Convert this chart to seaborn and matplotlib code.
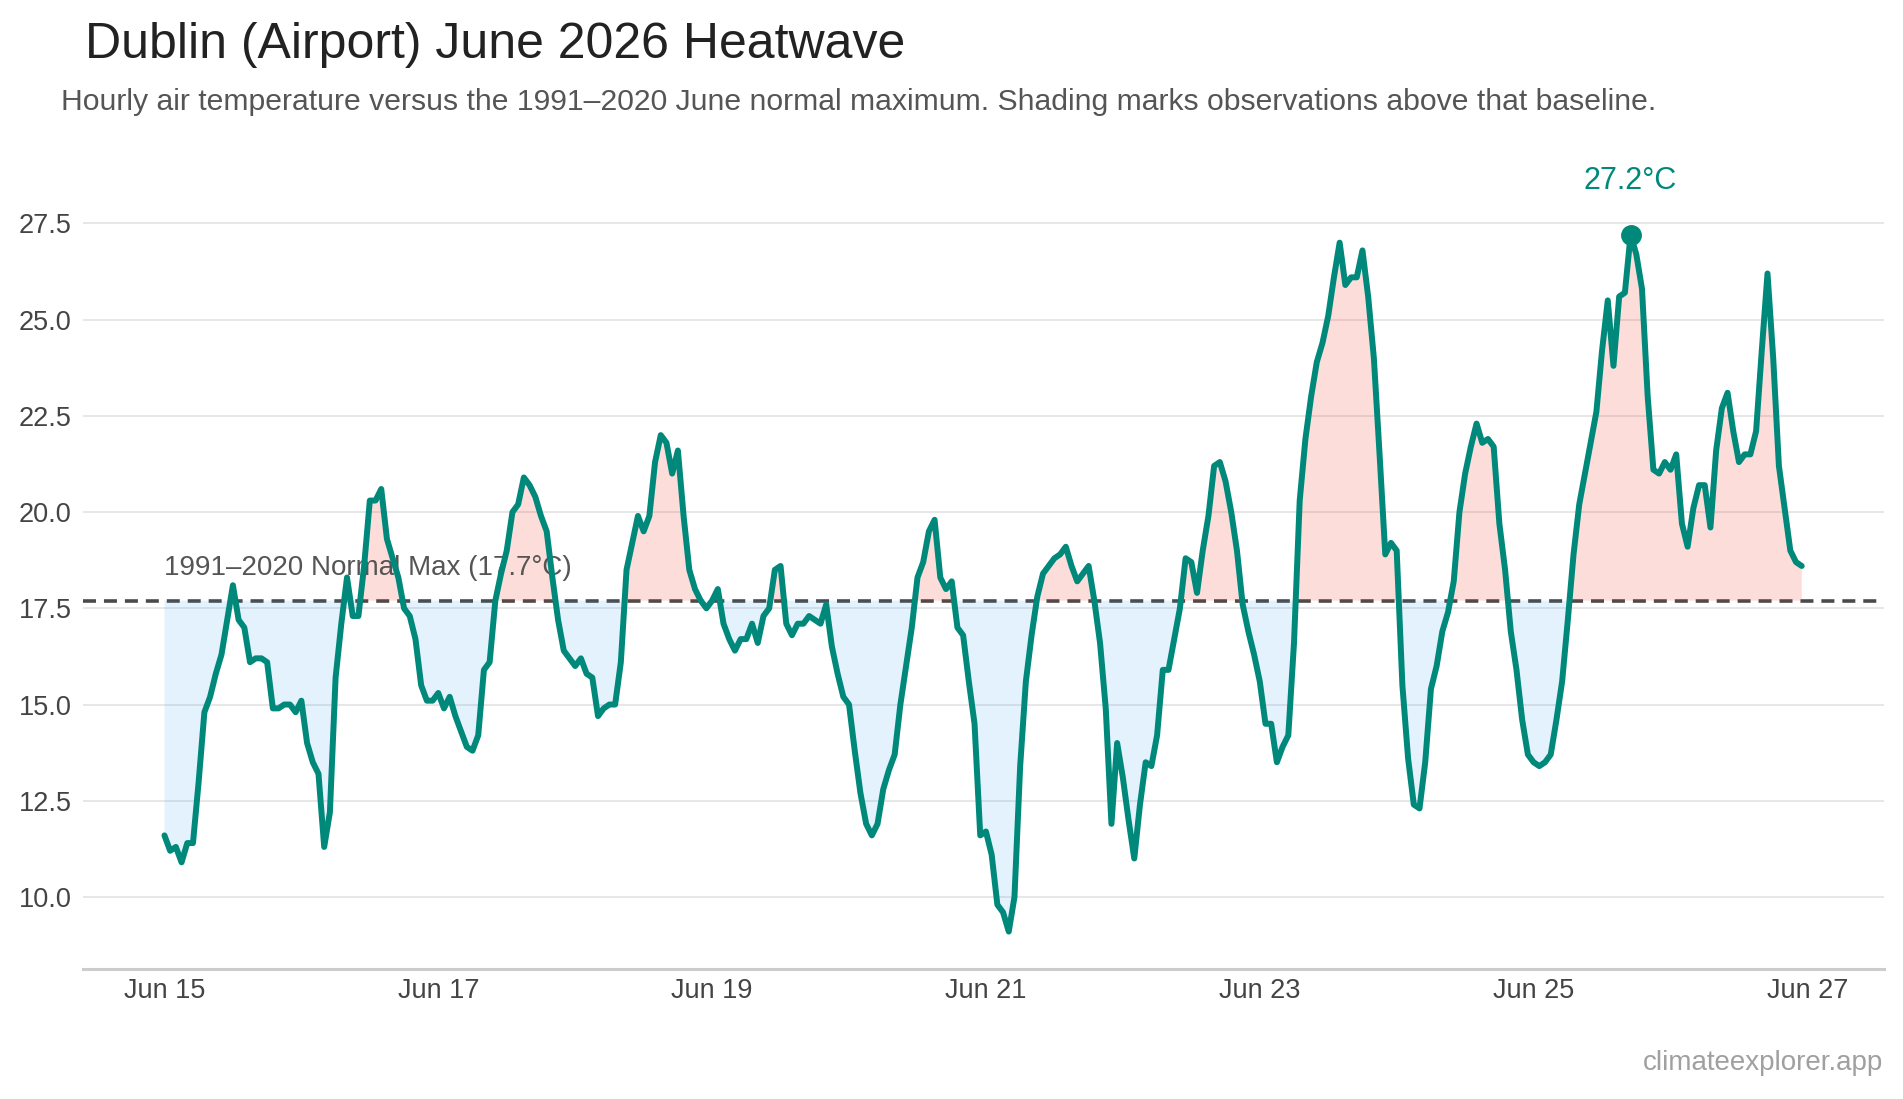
import numpy as np
import pandas as pd
import seaborn as sns
import matplotlib.pyplot as plt
import matplotlib.dates as mdates
from matplotlib.ticker import FormatStrFormatter

# hourly readings (°C), one list per day
jun15 = [11.6, 11.2, 11.3, 10.9, 11.4, 11.4, 13.0, 14.8, 15.2, 15.8, 16.3, 17.2,
         18.1, 17.2, 17.0, 16.1, 16.2, 16.2, 16.1, 14.9, 14.9, 15.0, 15.0, 14.8]
jun16 = [15.1, 14.0, 13.5, 13.2, 11.3, 12.2, 15.7, 17.1, 18.3, 17.3, 17.3, 18.6,
         20.3, 20.3, 20.6, 19.3, 18.8, 18.3, 17.5, 17.3, 16.7, 15.5, 15.1, 15.1]
jun17 = [15.3, 14.9, 15.2, 14.7, 14.3, 13.9, 13.8, 14.2, 15.9, 16.1, 17.7, 18.4,
         19.0, 20.0, 20.2, 20.9, 20.7, 20.4, 19.9, 19.5, 18.3, 17.2, 16.4, 16.2]
jun18 = [16.0, 16.2, 15.8, 15.7, 14.7, 14.9, 15.0, 15.0, 16.1, 18.5, 19.2, 19.9,
         19.5, 19.9, 21.3, 22.0, 21.8, 21.0, 21.6, 19.9, 18.5, 18.0, 17.7, 17.5]
jun19 = [17.7, 18.0, 17.1, 16.7, 16.4, 16.7, 16.7, 17.1, 16.6, 17.3, 17.5, 18.5,
         18.6, 17.1, 16.8, 17.1, 17.1, 17.3, 17.2, 17.1, 17.6, 16.5, 15.8, 15.2]
jun20 = [15.0, 13.8, 12.7, 11.9, 11.6, 11.9, 12.8, 13.3, 13.7, 15.0, 16.0, 17.0,
         18.3, 18.7, 19.5, 19.8, 18.3, 18.0, 18.2, 17.0, 16.8, 15.6, 14.5, 11.6]
jun21 = [11.7, 11.1, 9.8, 9.6, 9.1, 10.0, 13.4, 15.6, 16.8, 17.8, 18.4, 18.6,
         18.8, 18.9, 19.1, 18.6, 18.2, 18.4, 18.6, 17.7, 16.6, 14.9, 11.9, 14.0]
jun22 = [13.1, 12.0, 11.0, 12.4, 13.5, 13.4, 14.2, 15.9, 15.9, 16.7, 17.5, 18.8,
         18.7, 17.9, 19.0, 19.9, 21.2, 21.3, 20.8, 20.0, 19.0, 17.6, 16.9, 16.3]
jun23 = [15.6, 14.5, 14.5, 13.5, 13.9, 14.2, 16.6, 20.3, 21.9, 23.0, 23.9, 24.4,
         25.1, 26.1, 27.0, 25.9, 26.1, 26.1, 26.8, 25.6, 24.0, 21.5, 18.9, 19.2]
jun24 = [19.0, 15.5, 13.6, 12.4, 12.3, 13.5, 15.4, 16.0, 16.9, 17.4, 18.2, 20.0,
         21.0, 21.7, 22.3, 21.8, 21.9, 21.7, 19.7, 18.5, 16.9, 15.9, 14.6, 13.7]
jun25 = [13.5, 13.4, 13.5, 13.7, 14.6, 15.6, 17.2, 18.9, 20.2, 21.0, 21.8, 22.6,
         24.2, 25.5, 23.8, 25.6, 25.7, 27.2, 26.7, 25.8, 23.0, 21.1, 21.0, 21.3]
jun26 = [21.1, 21.5, 19.7, 19.1, 20.1, 20.7, 20.7, 19.6, 21.6, 22.7, 23.1, 22.1,
         21.3, 21.5, 21.5, 22.1, 24.2, 26.2, 24.0, 21.2, 20.1, 19.0, 18.7, 18.6]

baseline = 17.7  # 1991-2020 June normal max
y_ticks = [10.0, 12.5, 15.0, 17.5, 20.0, 22.5, 25.0, 27.5]
x_tick_days = [15, 17, 19, 21, 23, 25, 27]

temps = np.array(jun15 + jun16 + jun17 + jun18 + jun19 + jun20 +
                 jun21 + jun22 + jun23 + jun24 + jun25 + jun26)
times = pd.date_range("2026-06-15 00:00", periods=len(temps), freq="h")
df = pd.DataFrame({"time": times, "temp": temps})

teal = "#00897b"

sns.set_theme(style="white")
plt.rcParams["font.family"] = ["Liberation Sans", "DejaVu Sans"]

fig = plt.figure(figsize=(19.03, 10.99), dpi=100)
ax = fig.add_axes([0.0434, 0.1187, 0.9464, 0.699])

ax.yaxis.grid(True, color="#e3e3e3", lw=1.2, zorder=0)
ax.set_axisbelow(True)

ax.axhline(baseline, color="#4a4a4a", lw=2.6, ls=(0, (3.6, 2.2)), zorder=2)

# shading above / below the baseline
ax.fill_between(times, temps, baseline, where=temps >= baseline, interpolate=True,
                color="#f44336", alpha=0.18, lw=0, zorder=3)
ax.fill_between(times, temps, baseline, where=temps <= baseline, interpolate=True,
                color="#2196f3", alpha=0.12, lw=0, zorder=3)

ax.text(times[0], 18.2, "1991\u20132020 Normal Max (17.7°C)", fontsize=20,
        color="#555555", ha="left", va="bottom", zorder=3.5)

sns.lineplot(data=df, x="time", y="temp", color=teal, lw=4.3, ax=ax, zorder=4)

# peak marker
i_max = int(np.argmax(temps))
ax.plot(times[i_max], temps[i_max], "o", ms=14, color=teal, zorder=5)
ax.annotate(f"{temps[i_max]:.1f}°C", (times[i_max], temps[i_max]), xytext=(0, 33),
            textcoords="offset points", ha="center", va="baseline", color=teal,
            fontsize=22, annotation_clip=False)

span = times[-1] - times[0]
ax.set_xlim(times[0] - span * 0.05, times[-1] + span * 0.05)
ax.set_ylim(8.14, 28.1)

ax.set_yticks(y_ticks)
ax.yaxis.set_major_formatter(FormatStrFormatter("%.1f"))
ax.xaxis.set_major_locator(mdates.DayLocator(bymonthday=x_tick_days))
ax.xaxis.set_major_formatter(mdates.DateFormatter("%b %d"))
ax.tick_params(axis="both", length=0, labelsize=19.5, labelcolor="#444444")
ax.tick_params(axis="x", pad=7)
ax.tick_params(axis="y", pad=8)
ax.set_xlabel("")
ax.set_ylabel("")

for side in ["left", "right", "top"]:
    ax.spines[side].set_visible(False)
ax.spines["bottom"].set_color("#cccccc")
ax.spines["bottom"].set_linewidth(2.2)

fig.text(0.0447, 0.947, "Dublin (Airport) June 2026 Heatwave", fontsize=36,
         color="#222222", ha="left", va="baseline")
fig.text(0.032, 0.9, "Hourly air temperature versus the 1991\u20132020 June normal maximum. "
         "Shading marks observations above that baseline.", fontsize=21.7,
         color="#555555", ha="left", va="baseline")
fig.text(0.9895, 0.026, "climateexplorer.app", fontsize=20, color="#a0a0a0",
         ha="right", va="baseline")

fig.savefig("out.png", dpi=100)
